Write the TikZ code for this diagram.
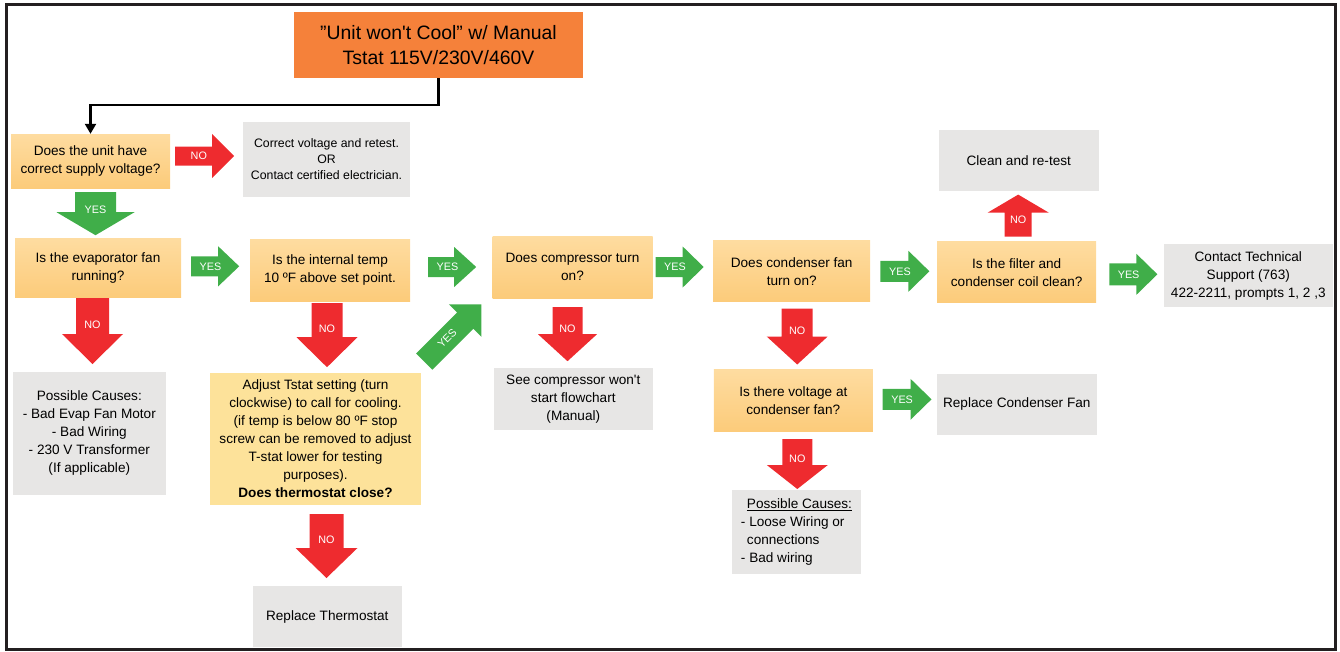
\documentclass[tikz,border=0pt]{standalone}
\usepackage{fontspec}
\setmainfont{Liberation Sans}
\usetikzlibrary{arrows.meta}

\definecolor{titleorange}{HTML}{F5813A}
\definecolor{qtop}{HTML}{FEDCA0}
\definecolor{qbottom}{HTML}{FCCB7A}
\definecolor{actionyellow}{HTML}{FDE29A}
\definecolor{resultgray}{HTML}{E7E6E5}
\definecolor{nored}{HTML}{EE2B2F}
\definecolor{yesgreen}{HTML}{40AE49}
\definecolor{framegray}{HTML}{231F20}

\begin{document}
\begin{tikzpicture}[x=1pt,y=-1pt]
        \tikzset{
            flowbox/.style={rectangle,inner sep=2pt,align=center,font=\fontsize{13.6}{18}\selectfont},
            question/.style={flowbox,top color=qtop,bottom color=qbottom},
            action/.style={flowbox,fill=actionyellow},
            result/.style={flowbox,fill=resultgray},
            titlebox/.style={flowbox,fill=titleorange,font=\fontsize{19.4}{25}\selectfont},
            flowline/.style={line width=2.3pt,-{Triangle[width=11pt,length=10pt]}},
            arrowtext/.style={text=white,inner sep=0pt,font=\fontsize{10.8}{12}\selectfont},
            yesarr/.style={color=yesgreen},
            noarr/.style={color=nored},
            pics/blockarrow/.style args={#1/#2/#3/#4/#5}{code={
                \fill (0,{-#3/2}) -- ({#1-#2},{-#3/2}) -- ({#1-#2},{-#4/2}) -- (#1,0)
                    -- ({#1-#2},{#4/2}) -- ({#1-#2},{#3/2}) -- (0,{#3/2}) -- cycle;
                \node[arrowtext] (-lab) at ({0.4*#1},0) {#5};
            }},
        }
        \useasboundingbox (0,0) rectangle (1340,651);
        \draw[line width=3pt,framegray] (6,4) rectangle (1335,649);

        \node[titlebox,minimum width=289pt,minimum height=66pt] (title) at (438.5,45) {”Unit won\textquotesingle t Cool” w/ Manual\\Tstat 115V/230V/460V};
        \node[question,minimum width=159pt,minimum height=54pt] (supply) at (90.5,161) {Does the unit have\\correct supply voltage?};
        \node[result,minimum width=167pt,minimum height=75pt,font=\fontsize{12.3}{16}\selectfont] (fixvolt) at (326.5,159) {Correct voltage and retest.\\OR\\Contact certified electrician.};
        \node[question,minimum width=166pt,minimum height=59pt] (evapfan) at (98,268.3) {Is the evaporator fan\\running?};
        \node[question,minimum width=160pt,minimum height=62pt] (temp) at (330,270) {Is the internal temp\\10 ºF above set point.};
        \node[result,minimum width=153pt,minimum height=123pt] (evapcause) at (89.3,433.3) {Possible Causes:\\- Bad Evap Fan Motor\\- Bad Wiring\\- 230 V Transformer\\(If applicable)};
        \node[action,minimum width=211pt,minimum height=132pt] (tstat) at (315.5,438.8) {Adjust Tstat setting (turn\\clockwise) to call for cooling.\\(if temp is below 80 ºF stop\\screw can be removed to adjust\\T-stat lower for testing\\purposes).\\\textbf{Does thermostat close?}};
        \node[result,minimum width=149pt,minimum height=61pt] (replthermo) at (327.3,616.7) {Replace Thermostat};
        \node[question,minimum width=160pt,minimum height=62pt] (comp) at (572.5,267) {Does compressor turn\\on?};
        \node[result,minimum width=159pt,minimum height=62pt] (compflow) at (573.3,398.8) {See compressor won\textquotesingle t\\start flowchart\\(Manual)};
        \node[question,minimum width=157pt,minimum height=61pt] (condfan) at (791.7,271.3) {Does condenser fan\\turn on?};
        \node[question,minimum width=159pt,minimum height=62pt] (fanvolt) at (793.3,400.8) {Is there voltage at\\condenser fan?};
        \node[result,minimum width=160pt,minimum height=61pt] (replfan) at (1016.8,404) {Replace Condenser Fan};
        \node[result,minimum width=129pt,minimum height=84pt,align=left] (fancause) at (796.5,532.2) {\hspace{6pt}\underline{Possible Causes:}\\- Loose Wiring or\\\hspace{6pt}connections\\- Bad wiring};
        \node[result,minimum width=160pt,minimum height=61pt] (clean) at (1018.8,160.3) {Clean and re-test};
        \node[question,minimum width=159pt,minimum height=61pt] (coil) at (1016.7,272.3) {Is the filter and\\condenser coil clean?};
        \node[result,minimum width=169pt,minimum height=63pt] (support) at (1248.3,275.7) {Contact Technical\\Support (763)\\422-2211, prompts 1, 2 ,3};

        \draw[flowline] (title.south) -- ++(0,27) -| (supply.north);

        \pic[noarr] (n1) at ([xshift=5pt,yshift=5pt]supply.east) {blockarrow=59/22/19/44/NO};
        \pic[yesarr,rotate=-90] (y1) at ([xshift=5pt,yshift=-4pt]supply.south) {blockarrow=43/23/41/78/YES};
        \pic[yesarr] (y2) at ([xshift=10pt,yshift=2pt]evapfan.east) {blockarrow=48/21/20/40/YES};
        \pic[noarr,rotate=-90] (n2) at ([xshift=-5.5pt]evapfan.south) {blockarrow=66/30/33/61/NO};
        \pic[noarr,rotate=-90] (n3) at ([xshift=-3pt,yshift=-2pt]temp.south) {blockarrow=64/30/31/61/NO};
        \pic[noarr,rotate=-90] (n4) at ([xshift=11pt,yshift=-9pt]tstat.south) {blockarrow=64/30/34/62/NO};
        \pic[yesarr] (y3) at ([xshift=18pt,yshift=3pt]temp.east) {blockarrow=48/22/20/40/YES};
        \pic[yesarr,rotate=45,transform shape] (y4) at ([xshift=3pt,yshift=11pt]tstat.north east) {blockarrow=81/23/23/46/YES};
        \pic[noarr,rotate=-90] (n5) at ([xshift=-5pt,yshift=-9pt]comp.south) {blockarrow=54/27/30/59/NO};
        \pic[yesarr] (y5) at ([xshift=3pt]comp.east) {blockarrow=48/21/20/41/YES};
        \pic[noarr,rotate=-90] (n6) at ([xshift=5.5pt,yshift=-6.5pt]condfan.south) {blockarrow=56/28/31/61/NO};
        \pic[yesarr] (y6) at ([xshift=10pt]condfan.east) {blockarrow=49/21/21/41/YES};
        \pic[noarr,rotate=-90] (n7) at ([xshift=4pt,yshift=-7pt]fanvolt.south) {blockarrow=50/24/30/61/NO};
        \pic[yesarr] (y7) at ([xshift=9.5pt,yshift=1.5pt]fanvolt.east) {blockarrow=49/21/21/41/YES};
        \pic[noarr,rotate=90] (n8) at ([xshift=1.5pt,yshift=5pt]coil.north) {blockarrow=42/18/27/61/NO};
        \pic[yesarr] (y8) at ([xshift=13pt,yshift=-2pt]coil.east) {blockarrow=48/21/22/41/YES};
    \end{tikzpicture}
\end{document}
